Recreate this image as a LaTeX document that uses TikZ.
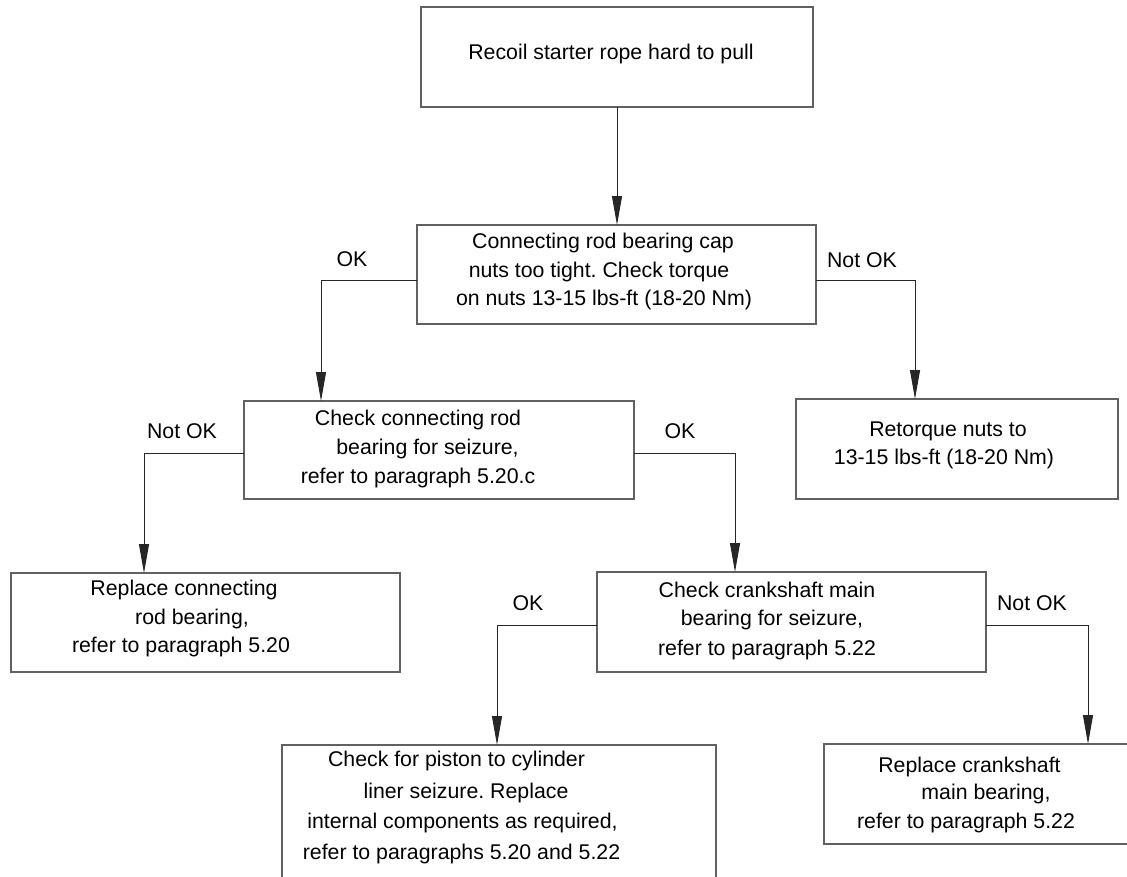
\documentclass[tikz,border=0pt]{standalone}
\usepackage{fontspec}
\setmainfont{Liberation Sans}
\usetikzlibrary{arrows.meta}
\frenchspacing
\begin{document}
\begin{tikzpicture}[x=1pt,y=-1pt,
  box/.style={draw=black!62, line width=1.3pt, inner sep=0pt, outer sep=0pt},
  conn/.style={draw=black!85, line width=1pt, -{Triangle[length=29pt,width=10pt]}},
  txt/.style={anchor=mid, inner sep=0pt, font=\fontsize{21.3}{25}\selectfont},
  ]
\useasboundingbox (0,0) rectangle (1127,876);
\fill[white] (0,0) rectangle (1127,876);
\clip (0,0) rectangle (1127,876);

% decision and action boxes
\node[box, minimum width=392pt, minimum height=100pt] (b1) at (617,57) {};
\node[box, minimum width=399pt, minimum height=99pt] (b2) at (616.5,274.5) {};
\node[box, minimum width=390pt, minimum height=98pt] (b3) at (439,450) {};
\node[box, minimum width=322pt, minimum height=100pt] (b4) at (957,449) {};
\node[box, minimum width=389pt, minimum height=99pt] (b5) at (205.5,622.5) {};
\node[box, minimum width=389pt, minimum height=100pt] (b6) at (791.5,622) {};
\node[box, minimum width=434pt, minimum height=160pt] (b7) at (499,825) {};
\node[box, minimum width=336pt, minimum height=100pt] (b8) at (992,794) {};

% box texts
\node[txt] (t1) at (611,57) {Recoil starter rope hard to pull};

\node[txt] (t2a) at (603,246) {Connecting rod bearing cap};
\node[txt] (t2b) at (599,275) {nuts too tight. Check torque};
\node[txt] (t2c) at (604,303) {on nuts 13-15 lbs-ft (18-20 Nm)};

\node[txt] (t3a) at (418,423) {Check connecting rod};
\node[txt] (t3b) at (427.5,452) {bearing for seizure,};
\node[txt] (t3c) at (418,481) {refer to paragraph 5.20.c};

\node[txt] (t4a) at (948,434) {Retorque nuts to};
\node[txt] (t4b) at (944,462) {13-15 lbs-ft (18-20 Nm)};

\node[txt] (t5a) at (184,593) {Replace connecting};
\node[txt] (t5b) at (192,622) {rod bearing,};
\node[txt] (t5c) at (181,650) {refer to paragraph 5.20};

\node[txt] (t6a) at (767,595) {Check crankshaft main};
\node[txt] (t6b) at (772,623) {bearing for seizure,};
\node[txt] (t6c) at (767,653) {refer to paragraph 5.22};

\node[txt] (t7a) at (456.5,764) {Check for piston to cylinder};
\node[txt] (t7b) at (466,796) {liner seizure. Replace};
\node[txt] (t7c) at (462.5,826) {internal components as required,};
\node[txt] (t7d) at (461.5,857) {refer to paragraphs 5.20 and 5.22};

\node[txt] (t8a) at (969.5,770) {Replace crankshaft};
\node[txt] (t8b) at (986,797) {main bearing,};
\node[txt] (t8c) at (966,826) {refer to paragraph 5.22};

% bends of the branch connectors
\coordinate (k1) at (321,280);
\coordinate (k2) at (915,280);
\coordinate (k3) at (144,453);
\coordinate (k4) at (735,453);
\coordinate (k5) at (497,625);
\coordinate (k6) at (1088,625);

% connectors
\draw[conn] (b1.south) -- (b1.south |- b2.north);
\draw[conn] (b2.west |- k1) -- (k1) -- (k1 |- b3.north);
\draw[conn] (b2.east |- k2) -- (k2) -- (k2 |- b4.north);
\draw[conn] (b3.west |- k3) -- (k3) -- (k3 |- b5.north);
\draw[conn] (b3.east |- k4) -- (k4) -- (k4 |- b6.north);
\draw[conn] (b6.west |- k5) -- (k5) -- (k5 |- b7.north);
\draw[conn] (b6.east |- k6) -- (k6) -- (k6 |- b8.north);

% branch labels
\node[txt] (l1) at (352,264) {OK};
\node[txt] (l2) at (862,265) {Not OK};
\node[txt] (l3) at (182,436) {Not OK};
\node[txt] (l4) at (680,436) {OK};
\node[txt] (l5) at (528,608) {OK};
\node[txt] (l6) at (1032,608) {Not OK};
\end{tikzpicture}
\end{document}
